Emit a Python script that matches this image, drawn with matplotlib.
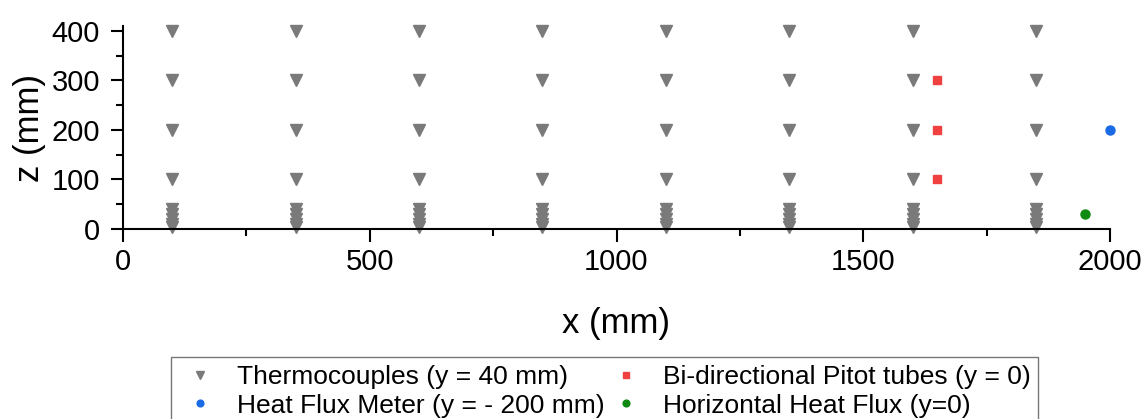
import numpy as np
import matplotlib.pyplot as plt
from matplotlib.ticker import MultipleLocator

plt.rcParams['font.family'] = ['Liberation Sans', 'DejaVu Sans']

# thermocouple trees (y = 40 mm)
tc_x = [100, 350, 600, 850, 1100, 1350, 1600, 1850]
tc_z = [5, 10, 20, 30, 40, 100, 200, 300, 400]

# bi-directional pitot tubes
pitot_x = [1650, 1650, 1650]
pitot_z = [100, 200, 300]

# heat flux meter
hfm_x = [2000]
hfm_z = [200]

# horizontal heat flux gauge
hhf_x = [1950]
hhf_z = [30]

fig = plt.figure(figsize=(11.44, 4.19), dpi=100)
ax = fig.add_axes([123/1144, 1 - 229/419, (1110 - 123)/1144, (229 - 26)/419])

xs = [x for x in tc_x for z in tc_z]
zs = [z for x in tc_x for z in tc_z]
ax.plot(xs, zs, ls='none', marker='v', ms=8, color='#7a7a7a', clip_on=False,
        label='Thermocouples (y = 40 mm)')
ax.plot(hfm_x, hfm_z, ls='none', marker='o', ms=6.5, color='#1a6ae6', clip_on=False,
        label='Heat Flux Meter (y = - 200 mm)')
ax.plot(pitot_x, pitot_z, ls='none', marker='s', ms=6, color='#f04040', clip_on=False,
        label='Bi-directional Pitot tubes (y = 0)')
ax.plot(hhf_x, hhf_z, ls='none', marker='o', ms=6.5, color='#118a11', clip_on=False,
        label='Horizontal Heat Flux (y=0)')

ax.set_xlim(0, 2000)
ax.set_ylim(0, 410)
ax.spines['top'].set_visible(False)
ax.spines['right'].set_visible(False)
ax.spines['left'].set_linewidth(1.5)
ax.spines['bottom'].set_linewidth(1.5)
ax.xaxis.set_major_locator(MultipleLocator(500))
ax.xaxis.set_minor_locator(MultipleLocator(250))
ax.yaxis.set_major_locator(MultipleLocator(100))
ax.yaxis.set_minor_locator(MultipleLocator(50))
ax.tick_params(which='major', direction='out', length=9, width=1.5, labelsize=21)
ax.tick_params(which='minor', direction='out', length=5, width=1.5)
ax.tick_params(axis='x', which='major', pad=5)
ax.tick_params(axis='y', which='major', pad=7.5)
ax.set_xlabel('x (mm)', fontsize=25, labelpad=22)
ax.set_ylabel('z (mm)', fontsize=25, labelpad=4)

fig.legend(loc='upper left', bbox_to_anchor=(171/1144, 1 - 357/419), ncol=2,
           fontsize=19, frameon=True, fancybox=False, edgecolor='#555555',
           markerscale=0.75, columnspacing=0.0, handletextpad=0.6, handlelength=1.6,
           borderpad=0.3, labelspacing=0.18, borderaxespad=0)

fig.savefig('out.png', dpi=100)
